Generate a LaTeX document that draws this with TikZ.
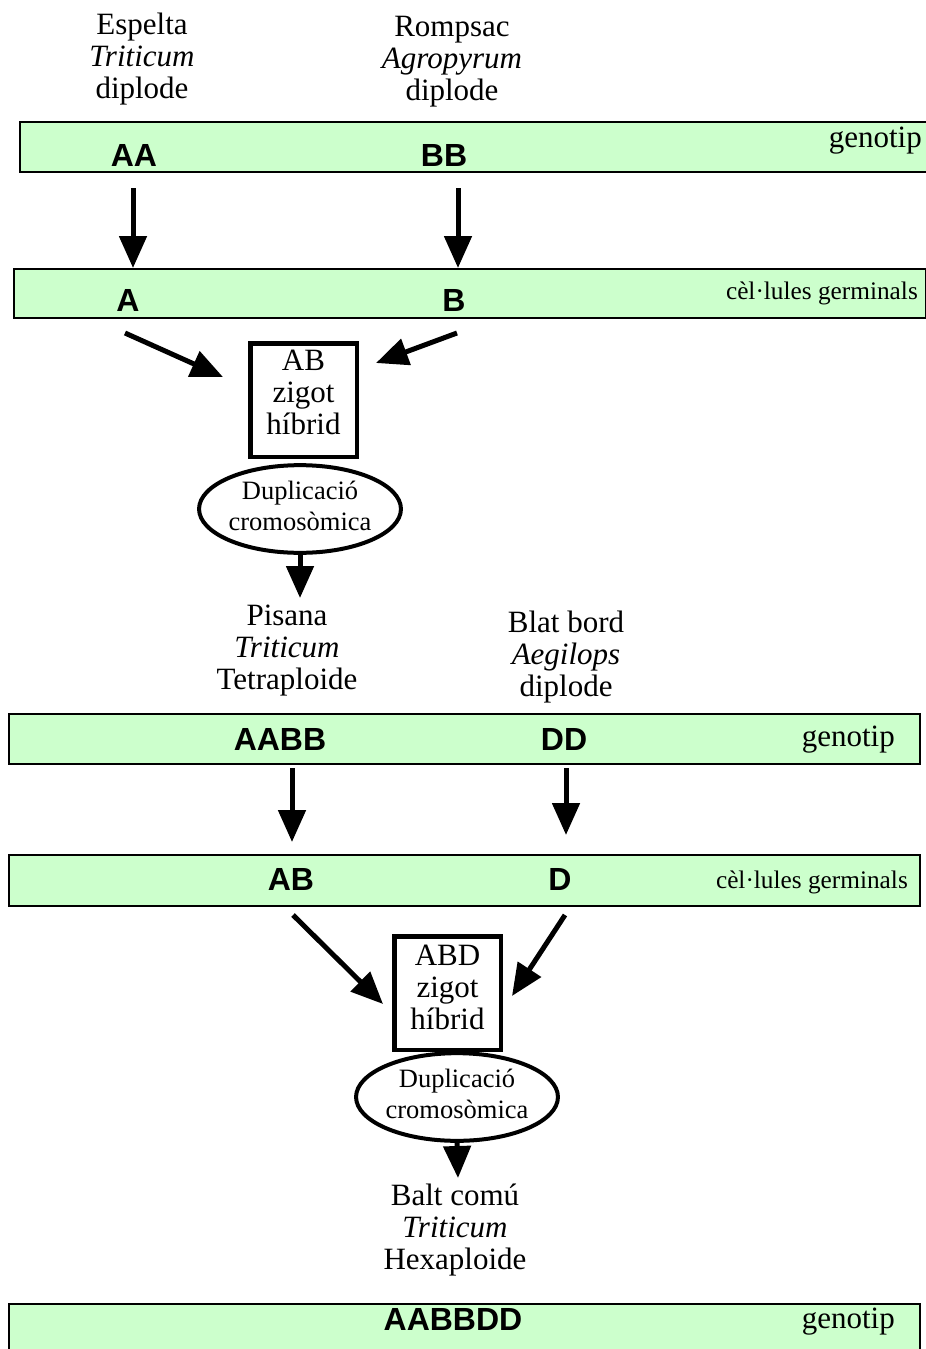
\documentclass[tikz,border=0pt]{standalone}
\usepackage{fontspec}
\setmainfont{Liberation Serif}
\newfontfamily\genofont{Liberation Sans}
\usetikzlibrary{arrows.meta,shapes.geometric}
\definecolor{barfill}{RGB}{204,255,204}
\begin{document}
\begin{tikzpicture}[x=1pt,y=-1pt,
  bar/.style={draw=black,line width=2pt,fill=barfill,inner sep=0pt},
  species/.style={align=center,inner sep=0pt,font=\fontsize{31}{32}\selectfont},
  geno/.style={inner sep=0pt,font=\genofont\bfseries\fontsize{32}{34}\selectfont},
  tagbig/.style={anchor=east,inner sep=0pt,font=\fontsize{31}{32}\selectfont},
  tagsmall/.style={anchor=east,inner sep=0pt,font=\fontsize{25.3}{30}\selectfont},
  zbox/.style={draw=black,line width=4.5pt,inner sep=0pt,minimum width=106.5pt,
    minimum height=113.5pt,font=\fontsize{31}{32}\selectfont},
  dupl/.style={draw=black,line width=4pt,ellipse,inner sep=0pt,minimum width=196pt,
    minimum height=78pt,font=\fontsize{26.5}{31}\selectfont},
  flow/.style={line width=5pt,-{Triangle[length=32pt,width=27pt]}}
]
\useasboundingbox (0,0) rectangle (926,1349);

% genotype / germ-cell bands
\node[bar,minimum width=930pt,minimum height=50pt,anchor=north west] (g1) at (19,121) {};
\node[bar,minimum width=912pt,minimum height=49pt,anchor=north west] (c1) at (13,268) {};
\node[bar,minimum width=911pt,minimum height=50pt,anchor=north west] (g2) at (8,713) {};
\node[bar,minimum width=911pt,minimum height=51pt,anchor=north west] (c2) at (8,854) {};
\node[bar,minimum width=911pt,minimum height=60pt,anchor=north west] (g3) at (8,1303) {};

% parent species
\node[species] (espelta) at (142,59) {Espelta\\\textit{Triticum}\\diplode};
\node[species] (rompsac) at (452,62) {Rompsac\\\textit{Agropyrum}\\diplode};

% band labels
\node[geno] (aa) at (134,155) {AA};
\node[geno] (bb) at (444,155) {BB};
\node[tagbig] (gt1) at (922,141) {genotip};
\node[geno] (a) at (128,300) {A};
\node[geno] (b) at (454,300) {B};
\node[tagsmall] (cg1) at (918,293) {cèl·lules germinals};

% first hybridisation
\node[zbox] (z1) at (303.5,400) {\raisebox{4pt}[\height][\depth]{\begin{tabular}{@{}c@{}}AB\\zigot\\híbrid\end{tabular}}};
\node[dupl] (d1) at (300,509) {\begin{tabular}{@{}c@{}}Duplicació\\cromosòmica\end{tabular}};

\node[species] (pisana) at (287,651) {Pisana\\\textit{Triticum}\\Tetraploide};
\node[species] (blat) at (566,657) {Blat bord\\\textit{Aegilops}\\diplode};

\node[geno] (aabb) at (280,739) {AABB};
\node[geno] (dd) at (564,739) {DD};
\node[tagbig] (gt2) at (895,740) {genotip};
\node[geno] (ab) at (291,879) {AB};
\node[geno] (d) at (560,879) {D};
\node[tagsmall] (cg2) at (908,882) {cèl·lules germinals};

% second hybridisation
\node[zbox] (z2) at (447.5,993) {\raisebox{2pt}[\height][\depth]{\begin{tabular}{@{}c@{}}ABD\\zigot\\híbrid\end{tabular}}};
\node[dupl] (d2) at (457,1097) {\begin{tabular}{@{}c@{}}Duplicació\\cromosòmica\end{tabular}};

\node[species] (balt) at (455,1230) {Balt comú\\\textit{Triticum}\\Hexaploide};

\node[geno] (aabbdd) at (453,1319) {AABBDD};
\node[tagbig] (gt3) at (895,1322) {genotip};

% arrow end points
\coordinate (s1) at (133,188);
\coordinate (s2) at (458,188);
\coordinate (s3) at (125,333);
\coordinate (t3) at (223,377);
\coordinate (s4) at (457,333);
\coordinate (t4) at (376,363);
\coordinate (t5) at (300,598);
\coordinate (s6) at (292,768);
\coordinate (t6) at (292,842);
\coordinate (s7) at (566,768);
\coordinate (t7) at (566,835);
\coordinate (s8) at (293,915);
\coordinate (t8) at (383,1004);
\coordinate (s9) at (565,915);
\coordinate (t9) at (512,996);
\coordinate (t10) at (458,1178);

\draw[flow] (s1) -- (s1 |- c1.north);
\draw[flow] (s2) -- (s2 |- c1.north);
\draw[flow] (s3) -- (t3);
\draw[flow] (s4) -- (t4);
\draw[flow] (d1.south) -- (t5);
\draw[flow] (s6) -- (t6);
\draw[flow] (s7) -- (t7);
\draw[flow] (s8) -- (t8);
\draw[flow] (s9) -- (t9);
\draw[flow] (d2.south) -- (t10);
\end{tikzpicture}
\end{document}
